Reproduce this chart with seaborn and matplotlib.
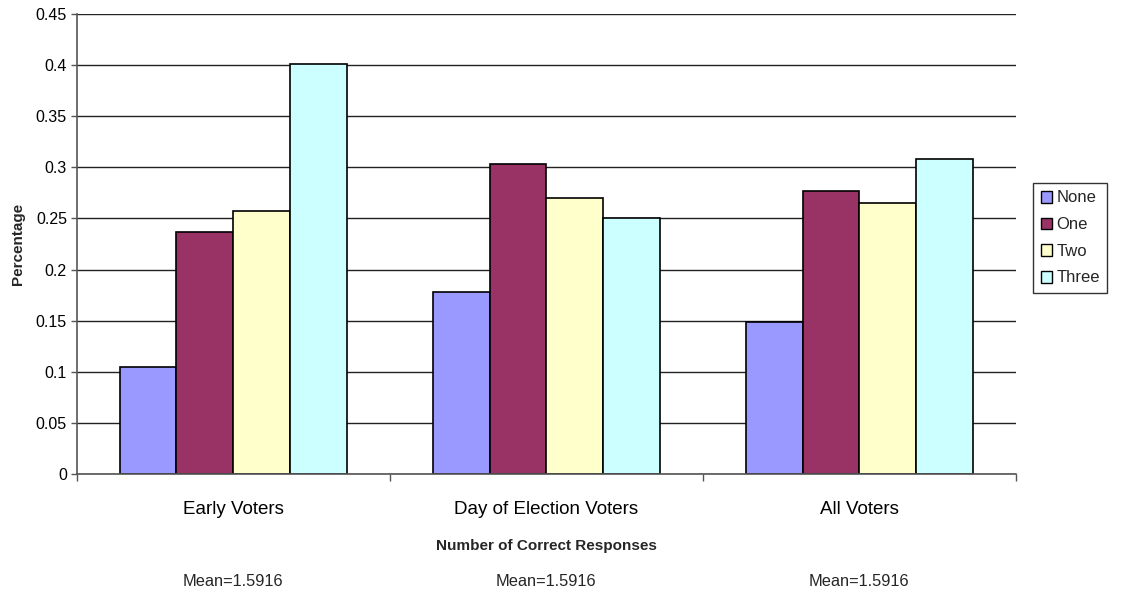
import matplotlib
matplotlib.use("Agg")
import matplotlib.pyplot as plt
import matplotlib.transforms as mtransforms
from matplotlib.patches import Patch
import seaborn as sns
import pandas as pd

groups = ["Early Voters", "Day of Election Voters", "All Voters"]
responses = ["None", "One", "Two", "Three"]
none_vals = [0.105, 0.178, 0.149]
one_vals = [0.237, 0.303, 0.277]
two_vals = [0.257, 0.270, 0.265]
three_vals = [0.401, 0.250, 0.308]
mean_labels = ["Mean=1.5916", "Mean=1.5916", "Mean=1.5916"]
colors = ["#9999FF", "#993366", "#FFFFCC", "#CCFFFF"]

rows = []
for resp, vals in zip(responses, [none_vals, one_vals, two_vals, three_vals]):
    for g, v in zip(groups, vals):
        rows.append({"Group": g, "Response": resp, "Percentage": v})
df = pd.DataFrame(rows)

sns.set_theme(style="white")
plt.rcParams["font.family"] = ["Liberation Sans", "DejaVu Sans"]

fig = plt.figure(figsize=(11.23, 5.95), dpi=100)
ax = fig.add_axes([0.0683, 0.2034, 0.8364, 0.7731])

sns.barplot(data=df, x="Group", y="Percentage", hue="Response",
            order=groups, hue_order=responses, palette=colors,
            width=0.726, gap=0, edgecolor="black", linewidth=1.2,
            saturation=1, legend=False, ax=ax)

ax.set_xlim(-0.5, 2.5)
ax.set_ylim(0, 0.45)
ax.set_yticks([i * 0.05 for i in range(10)])
ax.set_yticklabels(["0", "0.05", "0.1", "0.15", "0.2", "0.25", "0.3", "0.35", "0.4", "0.45"])
ax.yaxis.grid(True, color="#222222", linewidth=1.0)
ax.set_axisbelow(True)

for side in ["top", "right"]:
    ax.spines[side].set_visible(False)
for side in ["left", "bottom"]:
    ax.spines[side].set_color("#555555")
    ax.spines[side].set_linewidth(1.2)

ax.tick_params(axis="y", which="major", left=True, length=4, width=1,
               color="#555555", labelsize=11.5, pad=3, labelcolor="black")
ax.set_xticks([0, 1, 2])
ax.set_xticklabels(groups)
ax.set_xticks([-0.5, 0.5, 1.5, 2.5], minor=True)
ax.tick_params(axis="x", which="major", bottom=False, labelsize=13.5,
               pad=13.5, labelcolor="black")
ax.tick_params(axis="x", which="minor", bottom=True, length=5, width=1,
               color="#555555")

ax.set_xlabel("Number of Correct Responses", fontsize=11, fontweight="bold",
              labelpad=15)
ax.set_ylabel("Percentage", fontsize=11, fontweight="bold", labelpad=8)

trans = mtransforms.blended_transform_factory(ax.transData, fig.transFigure)
for i, txt in enumerate(mean_labels):
    fig.text(i, 1 - 582 / 595, txt, transform=trans, ha="center",
             va="center", fontsize=11.8)

handles = [Patch(facecolor=c, edgecolor="black", linewidth=1.0) for c in colors]
leg = fig.legend(handles, responses, loc="center left",
                 bbox_to_anchor=(1033 / 1123, 1 - 238 / 595),
                 frameon=True, fancybox=False, fontsize=12,
                 handlelength=0.7, handleheight=0.7, handletextpad=0.25,
                 labelspacing=0.7, borderpad=0.45, borderaxespad=0)
leg.get_frame().set_edgecolor("black")
leg.get_frame().set_linewidth(1.0)

fig.savefig("out.png", dpi=100)
